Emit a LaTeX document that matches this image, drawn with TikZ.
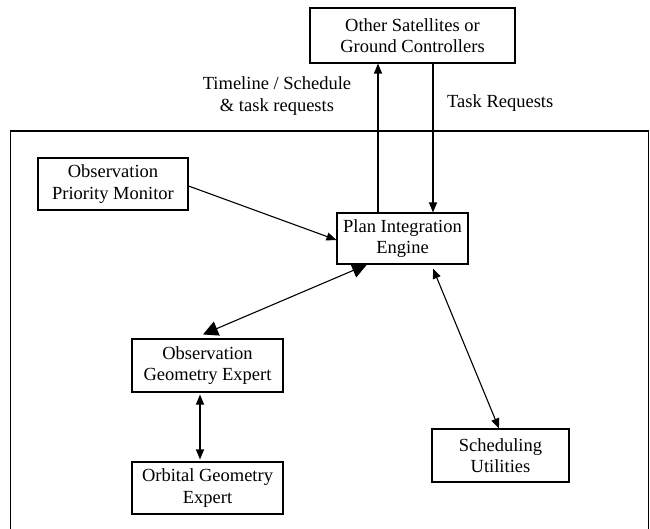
\documentclass[tikz,border=0pt]{standalone}
\usepackage{fontspec}
\setmainfont{Liberation Serif}
\usetikzlibrary{arrows.meta}
\begin{document}
\begin{tikzpicture}[x=1pt,y=1pt,
  box/.style={draw,line width=1.1pt,align=center,inner sep=0pt,
    font=\fontsize{18.5}{21.5}\selectfont},
  lbl/.style={align=center,inner sep=0pt,font=\fontsize{18.5}{21.5}\selectfont},
  link/.style={line width=1.1pt},
  tip/.style={-{Triangle[length=10pt,width=8pt]}},
  bigtip/.style={{Triangle[length=15pt,width=15pt]}-{Triangle[length=15pt,width=15pt]}},
  duo/.style={{Triangle[length=10pt,width=8pt]}-{Triangle[length=10pt,width=8pt]}}]
\useasboundingbox (0,0) rectangle (650,-529);
\clip (0,0) rectangle (650,-529);
\fill[white] (0,0) rectangle (650,-529);

% enclosing agent boundary (its lower edge runs off the page)
\draw[line width=1.5pt] (10.5,-131) rectangle (648.5,-560);

% components
\node[box,minimum width=205pt,minimum height=55pt] (sat) at (412.5,-35.5)
  {Other Satellites or\\Ground Controllers};
\node[box,minimum width=150pt,minimum height=52pt] (opm) at (113,-184)
  {Observation\\Priority Monitor};
\node[box,minimum width=131pt,minimum height=51pt] (pie) at (402.5,-238.5)
  {Plan Integration\\Engine};
\node[box,minimum width=151pt,minimum height=53pt] (oge) at (207.5,-365.5)
  {Observation\\Geometry Expert};
\node[box,minimum width=151pt,minimum height=52pt] (orb) at (207.5,-488)
  {Orbital Geometry\\Expert};
\node[box,minimum width=137pt,minimum height=53pt] (sch) at (500.5,-455.5)
  {Scheduling\\Utilities};

% message labels
\node[lbl] (tl) at (277,-96) {Timeline / Schedule\\\& task requests};
\node[lbl,anchor=west] (tr) at (447,-103) {Task Requests};

% vertical lanes for the external links
\coordinate (upx) at (378,0);
\coordinate (dnx) at (433,0);

% connectors
\draw[link,tip] (upx |- pie.north) -- (upx |- sat.south);
\draw[link,tip] (dnx |- sat.south) -- (dnx |- pie.north);
\draw[link,tip] ([yshift=-2pt]opm.east) -- ([yshift=-1.5pt]pie.west);
\draw[link,bigtip] ([xshift=-4.5pt,yshift=4pt]oge.north) -- ([xshift=-35.5pt]pie.south);
\draw[link,duo] ([xshift=30.5pt,yshift=-4pt]pie.south) -- ([xshift=-1.5pt]sch.north);
\draw[link,duo] ([xshift=-7.5pt,yshift=-2pt]oge.south) -- ([xshift=-7.5pt,yshift=2pt]orb.north);
\end{tikzpicture}
\end{document}
